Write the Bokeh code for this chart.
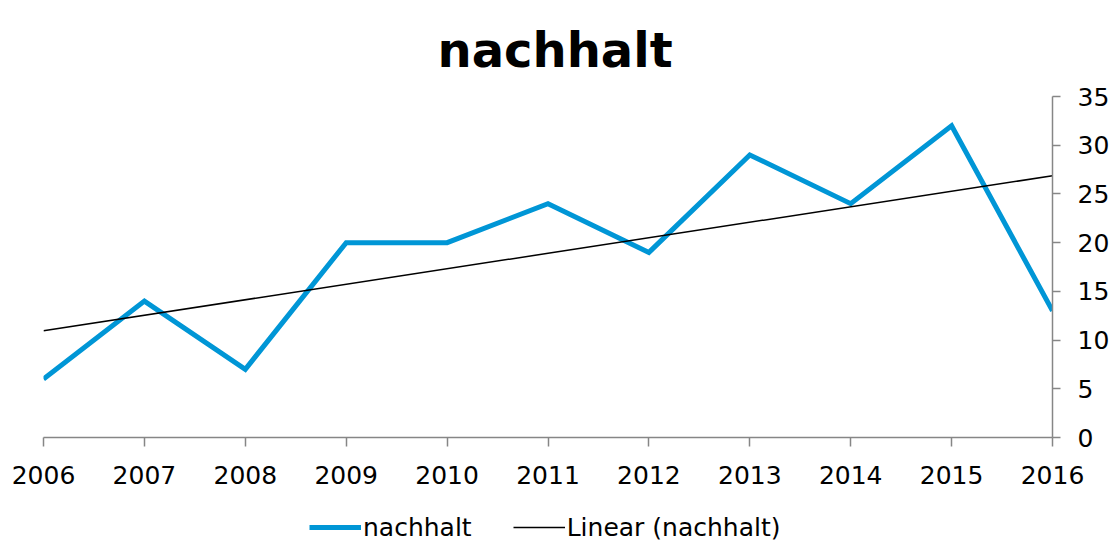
import numpy as np
from bokeh.plotting import figure
from bokeh.layouts import column
from bokeh.models import Range1d, LinearAxis, FixedTicker, Legend, LegendItem, Title
from bokeh.embed import file_html
from bokeh.resources import INLINE

years = [2006, 2007, 2008, 2009, 2010, 2011, 2012, 2013, 2014, 2015, 2016]
nachhalt = [6, 14, 7, 20, 20, 24, 19, 29, 24, 32, 13]
y_ticks = [0, 5, 10, 15, 20, 25, 30, 35]
series_name = "nachhalt"
trend_name = "Linear (nachhalt)"

# linear trend (least squares) of the series, as in the original chart
slope, intercept = np.polyfit(years, nachhalt, 1)
trend_x = [years[0], years[-1]]
trend_y = [slope * x + intercept for x in trend_x]

FONT = "DejaVu Sans"
BLUE = "#0096D6"
GREY = "#868686"

p = figure(frame_width=1009, frame_height=341, output_backend="svg", toolbar_location=None,
           x_range=Range1d(2006, 2016), y_range=Range1d(0, 35),
           y_axis_location=None, min_border_left=43, min_border_right=60,
           min_border_top=96, min_border_bottom=62)
p.outline_line_color = None
p.background_fill_color = "white"
p.border_fill_color = "white"
p.xgrid.visible = False
p.ygrid.visible = False
p.add_layout(Title(text="nachhalt", text_font=FONT, text_font_size="48px",
                   text_font_style="bold", text_color="black", align="left",
                   offset=394, standoff=38), "above")

xa = p.xaxis[0]
xa.ticker = FixedTicker(ticks=years)
ya = LinearAxis(ticker=FixedTicker(ticks=y_ticks))
p.add_layout(ya, "right")
for ax, out, so in ((xa, 9, 19), (ya, 8, 17)):
    ax.major_label_text_font = FONT
    ax.major_label_text_font_size = "25px"
    ax.major_label_text_color = "black"
    ax.axis_line_color = GREY
    ax.axis_line_width = 1.5
    ax.major_tick_line_color = GREY
    ax.major_tick_line_width = 1.5
    ax.major_tick_in = 0
    ax.major_tick_out = out
    ax.minor_tick_line_color = None
    ax.major_label_standoff = so

p.line(years, nachhalt, line_color=BLUE, line_width=5, line_join="miter")
p.line(trend_x, trend_y, line_color="black", line_width=1.5)

# legend strip below the chart; its renderers use the same data but fall
# outside this strip's ranges, so only their legend glyphs are visible
q = figure(frame_width=1009, frame_height=44, output_backend="svg", toolbar_location=None,
           x_range=Range1d(0, 1), y_range=Range1d(0, 1),
           min_border_left=43, min_border_right=60, min_border_top=0, min_border_bottom=0)
q.axis.visible = False
q.grid.visible = False
q.outline_line_color = None
q.border_fill_color = "white"
l_main = q.line(years, nachhalt, line_color=BLUE, line_width=5)
l_trend = q.line(trend_x, trend_y, line_color="black", line_width=1.5)
q.add_layout(Legend(items=[LegendItem(label=series_name, renderers=[l_main]),
                           LegendItem(label=trend_name, renderers=[l_trend])],
                    orientation="horizontal", location=(266, 1),
                    label_text_font=FONT, label_text_font_size="25px",
                    label_text_color="black",
                    glyph_width=52, glyph_height=30, label_height=30, label_standoff=2,
                    spacing=41, padding=0, margin=0,
                    border_line_color=None, background_fill_alpha=0), "center")

open("out.html", "w").write(file_html(column(p, q, spacing=0), INLINE))
